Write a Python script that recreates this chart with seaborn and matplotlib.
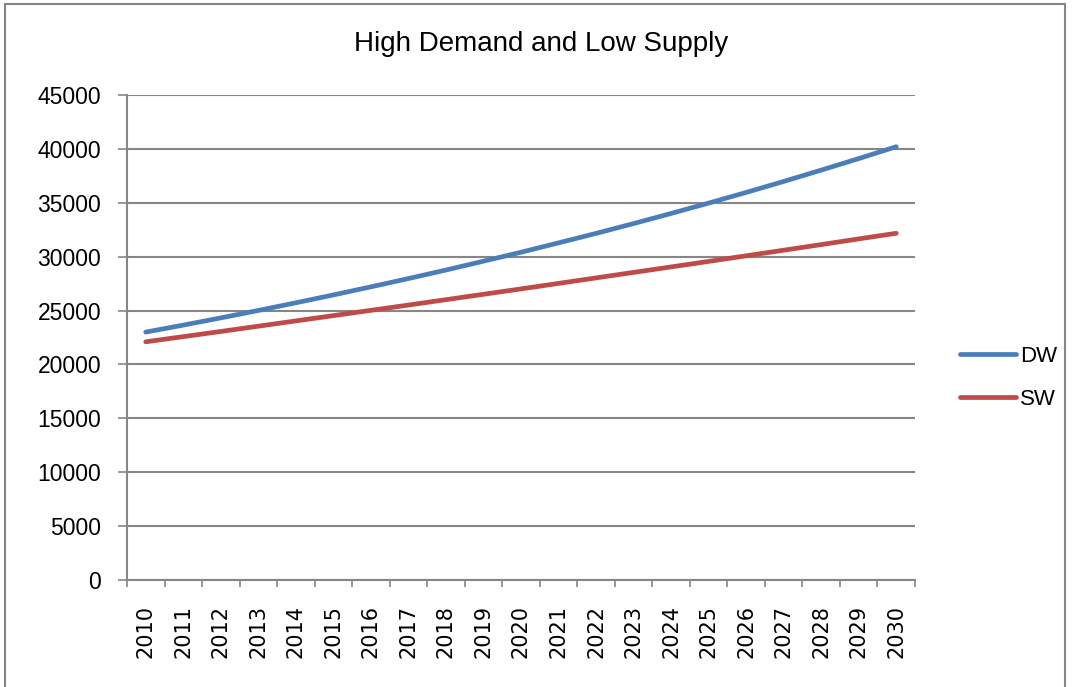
import numpy as np
import pandas as pd
import matplotlib
matplotlib.use("Agg")
import matplotlib.pyplot as plt
import seaborn as sns
from matplotlib.patches import Rectangle
from matplotlib.lines import Line2D

years = list(range(2010, 2031))
dw = [23000, 23650, 24320, 25010, 25720, 26450, 27200, 27970, 28760, 29580,
      30410, 31280, 32160, 33070, 34010, 34970, 35960, 36980, 38030, 39100, 40200]
sw = [22100, 22580, 23060, 23550, 24040, 24530, 25020, 25510, 26010, 26510,
      27010, 27520, 28030, 28540, 29050, 29560, 30080, 30600, 31120, 31650, 32170]
series_names = ["DW", "SW"]
colors = ["#4A7EBB", "#BE4B48"]
title = "High Demand and Low Supply"

sns.set_style("white")
plt.rcParams['font.family'] = ['Liberation Sans', 'DejaVu Sans']
plt.rcParams['text.color'] = 'black'
plt.rcParams['xtick.color'] = '#868686'
plt.rcParams['ytick.color'] = '#868686'
plt.rcParams['xtick.labelcolor'] = 'black'
plt.rcParams['ytick.labelcolor'] = 'black'

df = pd.DataFrame({
    "idx": list(range(len(years))) * 2,
    "value": dw + sw,
    "series": [series_names[0]] * len(years) + [series_names[1]] * len(years),
})

fig = plt.figure(figsize=(10.74, 6.87), dpi=100)
ax = fig.add_axes([127/1074, 1-580/687, (915-127)/1074, (580-95)/687])

sns.lineplot(data=df, x="idx", y="value", hue="series", palette=colors,
             linewidth=3.4, ax=ax, legend=False, solid_capstyle="round")

ax.set_xlim(-0.5, len(years) - 0.5)
ax.set_ylim(0, 45000)
ax.set_yticks(np.arange(0, 45001, 5000))
ax.set_yticklabels([str(v) for v in range(0, 45001, 5000)], fontsize=16.5)
ax.yaxis.grid(True, color="#868686", linewidth=1.5)
ax.set_axisbelow(True)

ax.set_xticks(np.arange(-0.5, len(years), 1.0))
ax.set_xticklabels([])
ax.set_xticks(np.arange(len(years)), minor=True)
ax.set_xticklabels([str(y) for y in years], minor=True, rotation=90, fontsize=15)
ax.tick_params(axis="x", which="major", bottom=True, length=5, width=1.2,
               color="#868686", direction="out")
ax.tick_params(axis="x", which="minor", bottom=True, length=0, pad=18,
               labelfontfamily="DejaVu Sans")
ax.tick_params(axis="y", which="major", left=True, length=6.5, width=1.2,
               color="#868686", direction="out", pad=12)
ax.set_xlabel("")
ax.set_ylabel("")

for side in ["top", "right"]:
    ax.spines[side].set_visible(False)
for side in ["left", "bottom"]:
    ax.spines[side].set_color("#868686")
    ax.spines[side].set_linewidth(1.5)

fig.text(541/1074, 1-44/687, title, ha="center", va="center", fontsize=20,
         color="black")

handles = [Line2D([0], [0], color=c, linewidth=3.4) for c in colors]
leg = fig.legend(handles, series_names, loc="center left",
                 bbox_to_anchor=(940/1074, 1-378/687), frameon=False, fontsize=16,
                 handlelength=2.5, handletextpad=0.2, labelspacing=1.0)
for t in leg.get_texts():
    t.set_color("black")

fig.patches.append(Rectangle((5/1074, -0.05), (1065-5)/1074, 1-4/687+0.05,
                             transform=fig.transFigure, fill=False,
                             edgecolor="#868686", linewidth=1.5))

fig.savefig("out.png", dpi=100)
